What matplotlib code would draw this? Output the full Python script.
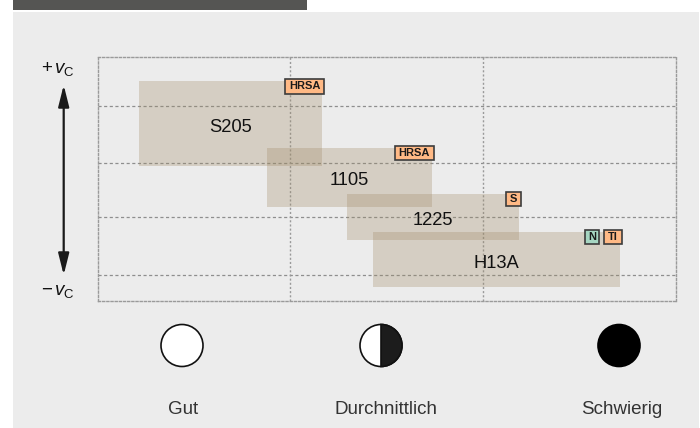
import matplotlib.pyplot as plt
from matplotlib.patches import Rectangle, Circle, Wedge

plt.rcParams['font.family'] = ['Liberation Sans', 'DejaVu Sans']
plt.rcParams['mathtext.fontset'] = 'custom'
plt.rcParams['mathtext.rm'] = 'Liberation Sans'
plt.rcParams['mathtext.it'] = 'Liberation Sans:italic'

# Werkstoffe: x = Zerspanbarkeit (0..3), y = Schnittgeschwindigkeit (0 = -vc, 100 = +vc)
grades = ["S205", "1105", "1225", "H13A"]
x_start = [0.215, 0.877, 1.294, 1.429]
x_end = [1.163, 1.733, 2.186, 2.710]
y_low = [55.4, 38.6, 24.9, 5.7]
y_high = [90.1, 62.8, 43.8, 28.2]
tags = [["HRSA"], ["HRSA"], ["S"], ["N", "TI"]]
tag_colors = {"HRSA": "#ffb985", "S": "#ffb985", "TI": "#ffb985", "N": "#a6d6c2"}
tag_widths = {"HRSA": 38.5, "S": 14.7, "N": 14.4, "TI": 17.6}

row_lines = [10.5, 34.5, 56.5, 80]
col_lines = [1, 2]

symbols = ["Gut", "Durchnittlich", "Schwierig"]
symbol_x = [182, 381, 619]
label_x = [183, 386, 622]

W, H = 700, 428
fig = plt.figure(figsize=(7, 4.28), dpi=100)
bg = fig.add_axes([0, 0, 1, 1])
bg.set_xlim(0, W)
bg.set_ylim(H, 0)
bg.axis("off")

# Hintergrund und Kopfband
bg.add_patch(Rectangle((13, 12), 686, 420, fc="#ececec", ec="none"))
bg.add_patch(Rectangle((13, -2), 294, 12, fc="#555553", ec="none"))

# Pfeil +vc / -vc
bg.annotate("", xy=(63.7, 85), xytext=(63.7, 275),
            arrowprops=dict(arrowstyle="<|-|>,head_length=1.0,head_width=0.25",
                            color="#1a1a1a", lw=1.6, mutation_scale=13,
                            shrinkA=0, shrinkB=0))
bg.text(41, 69, r"$+\,v_{\mathrm{C}}$", fontsize=13.5, ha="left", va="center", color="#111111")
bg.text(41, 292, r"$-\,v_{\mathrm{C}}$", fontsize=13.5, ha="left", va="center", color="#111111")

# Symbole
r = 21
cy = 345.5
bg.add_patch(Circle((symbol_x[0], cy), r, fc="white", ec="#111111", lw=1.2))
bg.add_patch(Circle((symbol_x[1], cy), r, fc="white", ec="#111111", lw=1.2))
bg.add_patch(Wedge((symbol_x[1], cy), r, -90, 90, fc="#1c1c1c", ec="#111111", lw=1.2))
bg.add_patch(Circle((symbol_x[2], cy), r, fc="black", ec="black", lw=1.2))
for lbl, lx in zip(symbols, label_x):
    bg.text(lx, 413.5, lbl, fontsize=13.5, ha="center", va="baseline", color="#333333")

# Diagramm
left, right, top, bottom = 97.5, 676, 57, 300.7
ax = fig.add_axes([left / W, (H - bottom) / H, (right - left) / W, (bottom - top) / H])
ax.set_xlim(0, 3)
ax.set_ylim(0, 100)
ax.patch.set_alpha(0)
ax.set_xticks([])
ax.set_yticks([])
for s in ax.spines.values():
    s.set_linestyle((0, (1.5, 1.5)))
    s.set_color("#9a9a9a")
    s.set_linewidth(1)
for yv in row_lines:
    ax.axhline(yv, color="#8e8e8e", lw=0.9, ls=(0, (2.5, 2)), zorder=1)
for xv in col_lines:
    ax.axvline(xv, color="#9a9a9a", lw=1, ls=(0, (1.5, 1.5)), zorder=1)

widths = [b - a for a, b in zip(x_start, x_end)]
heights = [b - a for a, b in zip(y_low, y_high)]
ax.bar(x_start, heights, width=widths, bottom=y_low, align="edge",
       color="#a08b67", alpha=0.3, lw=0, zorder=2)

px_x = (right - left) / 3
px_y = (bottom - top) / 100
for i, g in enumerate(grades):
    ax.text((x_start[i] + x_end[i]) / 2, (y_low[i] + y_high[i]) / 2 - 1.5, g,
            fontsize=13.2, ha="center", va="center", color="#111111", zorder=4)
    # Markierungen oben rechts
    xr = x_end[i] + 2 / px_x
    yt = y_high[i] + 2 / px_y
    th = 14.5 / px_y
    for t in reversed(tags[i]):
        tw = tag_widths[t] / px_x
        ax.add_patch(Rectangle((xr - tw, yt - th), tw, th, fc=tag_colors[t],
                               ec="#3c3c3c", lw=1.2, zorder=5))
        ax.text(xr - tw / 2, yt - th / 2, t, fontsize=8, fontweight="bold",
                ha="center", va="center", color="#1a1a1a", zorder=6)
        xr -= tw + 5 / px_x

fig.savefig("out.png", dpi=100)
